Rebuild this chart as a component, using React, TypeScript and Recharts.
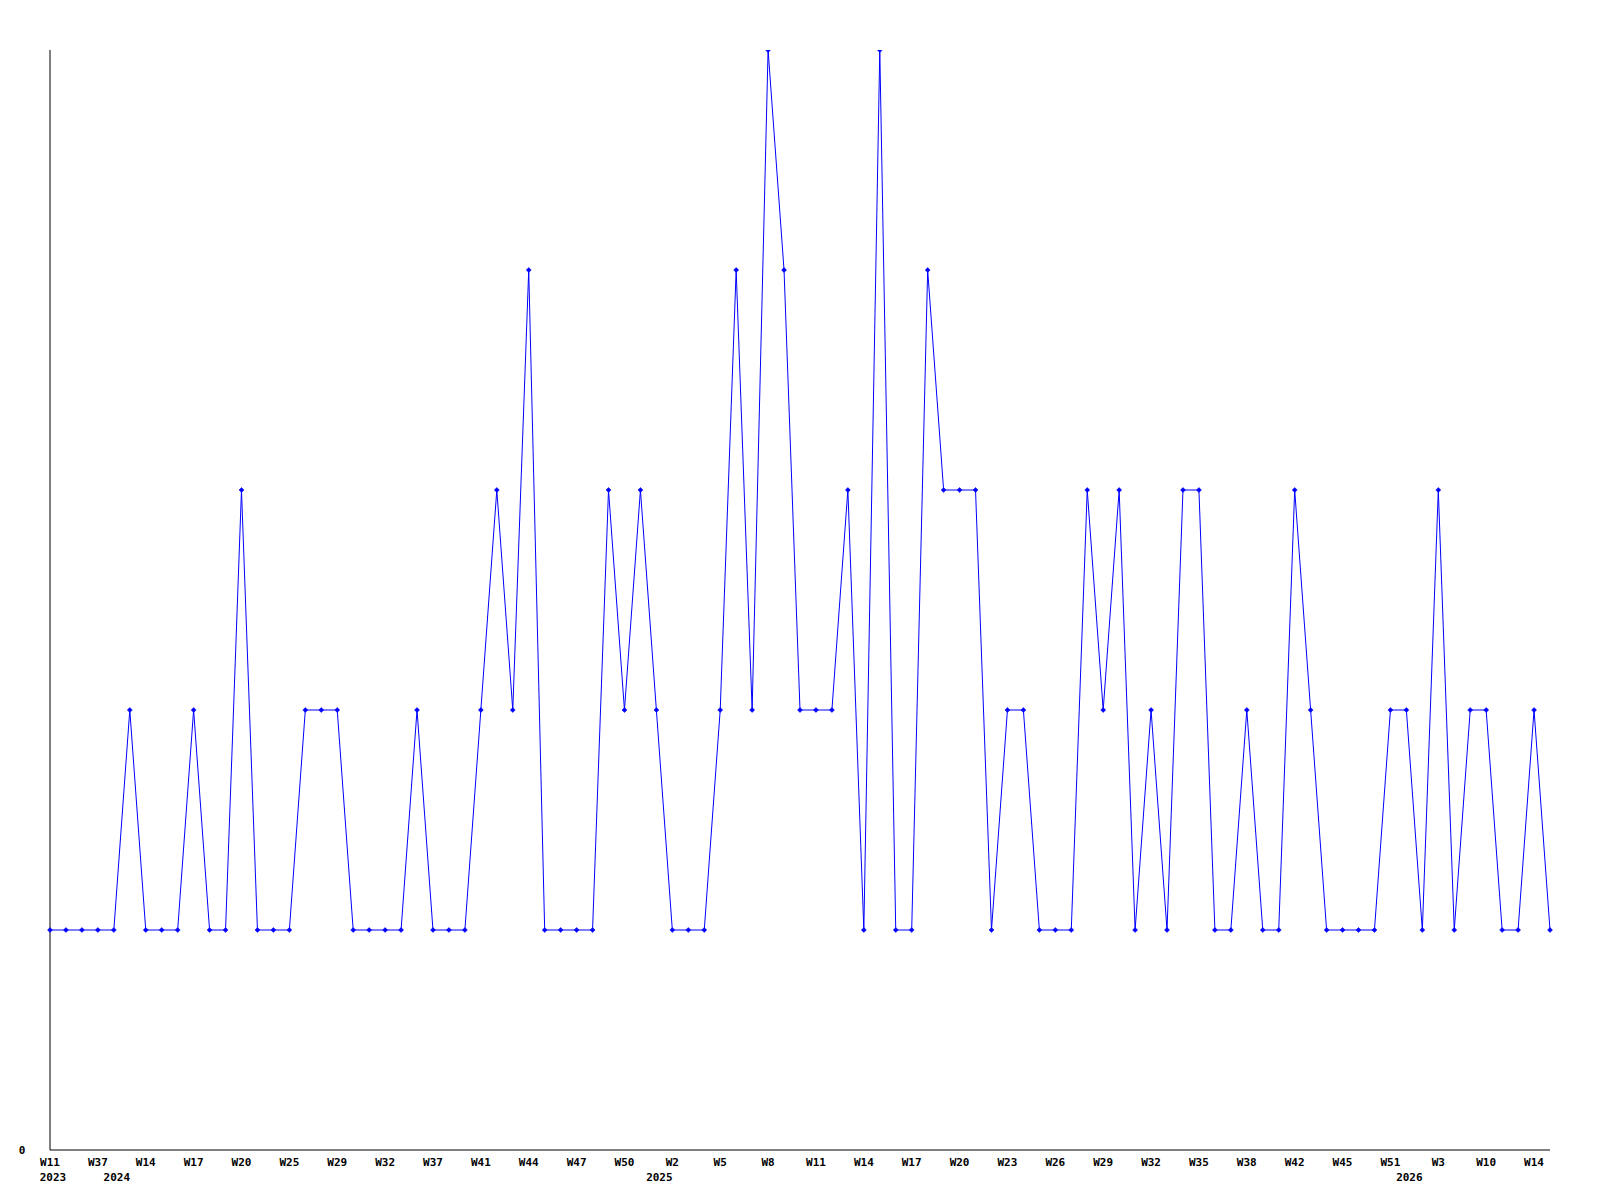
import React from 'react';
import { LineChart, Line, XAxis, YAxis } from 'recharts';

const weeks: string[] = [
  'W11', 'W15', 'W28', 'W37',
  'W12', 'W13', 'W14', 'W15', 'W16', 'W17', 'W18', 'W19', 'W20', 'W21', 'W23', 'W25', 'W26', 'W27', 'W29', 'W30',
  'W31', 'W32', 'W34', 'W35', 'W37', 'W39', 'W40', 'W41', 'W42', 'W43', 'W44', 'W45', 'W46', 'W47', 'W48', 'W49',
  'W50', 'W51',
  'W1', 'W2', 'W3', 'W4', 'W5', 'W6', 'W7', 'W8', 'W9', 'W10', 'W11', 'W12', 'W13', 'W14', 'W15', 'W16', 'W17',
  'W18', 'W19', 'W20', 'W21', 'W22', 'W23', 'W24', 'W25', 'W26', 'W27', 'W28', 'W29', 'W30', 'W31', 'W32', 'W33',
  'W34', 'W35', 'W36', 'W37', 'W38', 'W40', 'W41', 'W42', 'W43', 'W44', 'W45', 'W47', 'W49', 'W51',
  'W1', 'W2', 'W3', 'W6', 'W8', 'W10', 'W11', 'W12', 'W14', 'W15',
];

const years: string[] = [
  ...Array(4).fill('2023'),
  ...Array(34).fill('2024'),
  ...Array(47).fill('2025'),
  ...Array(10).fill('2026'),
];

const values: number[] = [
  1, 1, 1, 1, 1, 2, 1, 1, 1, 2,
  1, 1, 3, 1, 1, 1, 2, 2, 2, 1,
  1, 1, 1, 2, 1, 1, 1, 2, 3, 2,
  4, 1, 1, 1, 1, 3, 2, 3, 2, 1,
  1, 1, 2, 4, 2, 5, 4, 2, 2, 2,
  3, 1, 5, 1, 1, 4, 3, 3, 3, 1,
  2, 2, 1, 1, 1, 3, 2, 3, 1, 2,
  1, 3, 3, 1, 1, 2, 1, 1, 3, 2,
  1, 1, 1, 1, 2, 2, 1, 3, 1, 2,
  2, 1, 1, 2, 1,
];

const yTicks: number[] = [0];

const data = values.map((v, i) => ({
  key: `${years[i]}-${weeks[i]}-${i}`,
  value: v,
}));

const FONT = '"DejaVu Sans Mono", monospace';

const XTick = (props: any) => {
  const { x, y, payload } = props;
  const i: number = payload.index;
  const showWeek = i % 3 === 0;
  const showYear = i === 0 || years[i] !== years[i - 1];
  return (
    <g>
      {showWeek && (
        <text x={x} y={y + 14} textAnchor="middle" fontFamily={FONT} fontSize={11} fontWeight="bold" fill="#000">
          {weeks[i]}
        </text>
      )}
      {showYear && (
        <text x={x + 3} y={y + 29} textAnchor="middle" fontFamily={FONT} fontSize={11} fontWeight="bold" fill="#000">
          {years[i]}
        </text>
      )}
    </g>
  );
};

const YTick = (props: any) => {
  const { y, payload } = props;
  return (
    <text x={22} y={y + 4} textAnchor="middle" fontFamily={FONT} fontSize={11} fontWeight="bold" fill="#000">
      {payload.value}
    </text>
  );
};

const Dot = (props: any) => {
  const { cx, cy } = props;
  if (cx == null || cy == null) return null;
  return (
    <polygon
      points={`${cx - 2.5},${cy} ${cx},${cy - 2.5} ${cx + 2.5},${cy} ${cx},${cy + 2.5}`}
      fill="#0000ff"
      stroke="#0000ff"
      strokeWidth={0.5}
    />
  );
};

export default function App() {
  return (
    <div style={{ position: 'absolute', left: 0, top: 0, width: 1600, height: 1200, background: '#fff' }}>
      <LineChart width={1600} height={1200} data={data} margin={{ top: 50, right: 50, bottom: 0, left: 0 }}>
        <XAxis
          dataKey="key"
          interval={0}
          tick={<XTick />}
          tickLine={false}
          tickSize={0}
          height={50}
          stroke="#000"
          padding={{ left: 0, right: 0 }}
        />
        <YAxis
          domain={[0, 5]}
          ticks={yTicks}
          tick={<YTick />}
          tickLine={false}
          width={50}
          stroke="#000"
          allowDataOverflow
        />
        <Line
          type="linear"
          dataKey="value"
          stroke="#0000ff"
          strokeWidth={1}
          dot={<Dot />}
          activeDot={false}
          isAnimationActive={false}
        />
      </LineChart>
    </div>
  );
}
